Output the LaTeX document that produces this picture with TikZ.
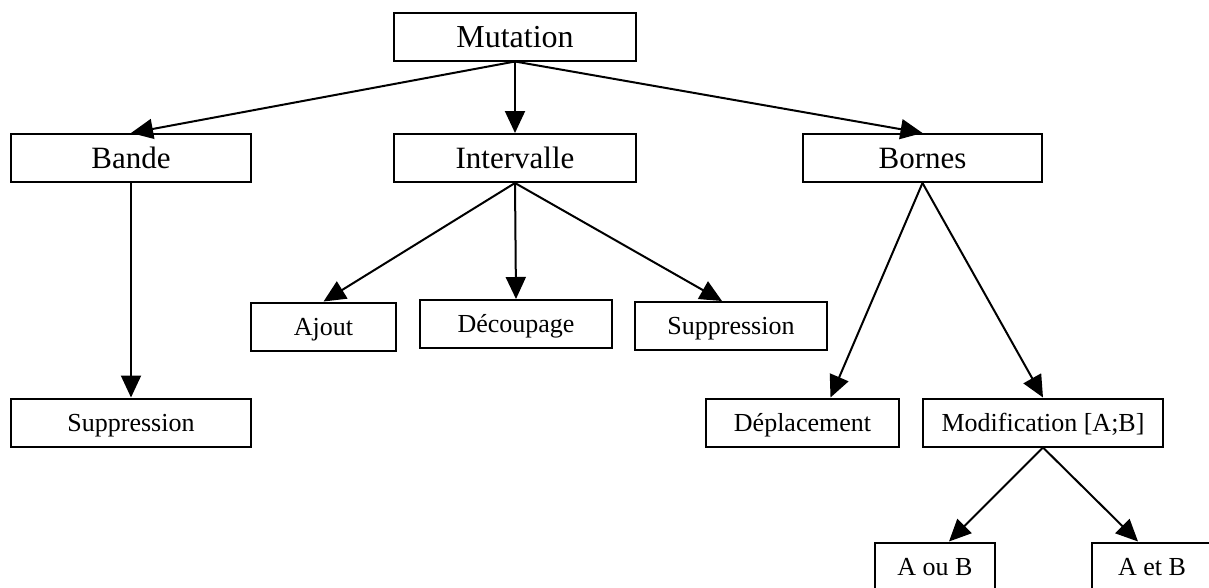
\documentclass[tikz,border=0pt]{standalone}
\usepackage{fontspec}
\setmainfont{Liberation Serif}
\usetikzlibrary{arrows.meta}
\begin{document}
\begin{tikzpicture}[x=1pt,y=-1pt,
  box/.style={draw, line width=2pt, inner sep=0pt, text depth=0pt, minimum height=48pt},
  big/.style={font=\fontsize{31}{36}\selectfont, text height=20.5pt},
  small/.style={font=\fontsize{26}{30}\selectfont, text height=17.2pt},
  conn/.style={line width=2pt, -{Triangle[length=22pt,width=20pt]}}]
\useasboundingbox (0,0) rectangle (1209,587);
\node[box,big,minimum width=242pt,font=\fontsize{32}{36}\selectfont,text height=21pt] (mut) at (515,36.5) {Mutation};
\node[box,big,minimum width=240pt] (bande) at (131,158) {Bande};
\node[box,big,minimum width=242pt] (inter) at (515,158) {Intervalle};
\node[box,big,minimum width=239pt] (bornes) at (922.5,158) {Bornes};
\node[box,small,minimum width=145pt] (ajout) at (323.5,326.5) {Ajout};
\node[box,small,minimum width=192pt] (decoup) at (516,324) {Découpage};
\node[box,small,minimum width=192pt] (supm) at (731,326) {Suppression};
\node[box,small,minimum width=240pt] (supl) at (131,422.5) {Suppression};
\node[box,small,minimum width=193pt] (depl) at (802.5,422.5) {Déplacement};
\node[box,small,minimum width=240pt] (modif) at (1043,422.5) {Modification [A;B]};
\node[box,small,minimum width=120pt] (aoub) at (935,566.5) {A ou B};
\node[box,small,minimum width=120pt] (aetb) at (1152,566.5) {A et B};
\draw[conn] (mut.south) -- (bande.north);
\draw[conn] (mut.south) -- (inter.north);
\draw[conn] (mut.south) -- (bornes.north);
\draw[conn] (bande.south) -- (supl.north);
\draw[conn] (inter.south) -- (ajout.north);
\draw[conn] (inter.south) -- (decoup.north);
\draw[conn] (inter.south) -- ([xshift=-9pt]supm.north);
\draw[conn] (bornes.south) -- ([xshift=28pt]depl.north);
\draw[conn] (bornes.south) -- (modif.north);
\draw[conn] (modif.south) -- ([xshift=14pt]aoub.north);
\draw[conn] (modif.south) -- ([xshift=-14pt]aetb.north);
\end{tikzpicture}
\end{document}
